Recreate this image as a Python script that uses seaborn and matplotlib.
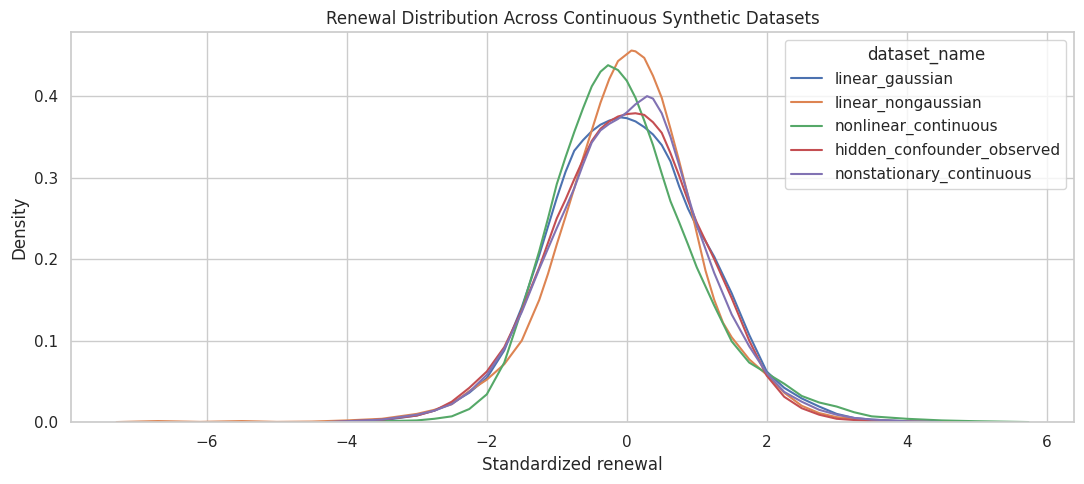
import numpy as np
import pandas as pd
import matplotlib
matplotlib.use("Agg")
import matplotlib.pyplot as plt
import seaborn as sns

sns.set_theme(style="whitegrid", palette="deep")

# ── Density curves (x, density) ──────────────────────────────────────────────

DATASETS = [
    "linear_gaussian",
    "linear_nongaussian",
    "nonlinear_continuous",
    "hidden_confounder_observed",
    "nonstationary_continuous",
]

gauss_x = [-4.2, -4.0, -3.5, -3.0, -2.75, -2.5, -2.25, -2.0, -1.75, -1.5, -1.25, -1.125,
           -1.0, -0.875, -0.75, -0.625, -0.5, -0.375, -0.25, -0.09, 0.0, 0.125, 0.25, 0.375,
           0.5, 0.625, 0.75, 0.875, 1.0, 1.125, 1.25, 1.5, 1.75, 2.0, 2.25, 2.5,
           2.75, 3.0, 3.25, 3.5, 4.0, 4.6]
gauss_y = [0.0, 0.001, 0.002, 0.008, 0.014, 0.023, 0.036, 0.054, 0.088, 0.141, 0.205, 0.240,
           0.275, 0.307, 0.333, 0.346, 0.357, 0.365, 0.370, 0.374, 0.373, 0.369, 0.362, 0.353,
           0.340, 0.320, 0.289, 0.262, 0.240, 0.222, 0.203, 0.158, 0.107, 0.062, 0.042, 0.029,
           0.019, 0.010, 0.005, 0.003, 0.001, 0.0]

nongauss_x = [-7.29, -6.7, -6.1, -5.5, -5.0, -4.5, -4.0, -3.5, -3.0, -2.75, -2.5, -2.25,
              -2.0, -1.75, -1.5, -1.25, -1.125, -1.0, -0.875, -0.75, -0.625, -0.5, -0.375, -0.25,
              -0.125, 0.067, 0.125, 0.25, 0.375, 0.5, 0.625, 0.75, 0.875, 1.0, 1.125, 1.25,
              1.375, 1.5, 1.75, 2.0, 2.25, 2.5, 2.75, 3.0, 3.5, 4.0, 4.5, 4.9]
nongauss_y = [0.0, 0.0012, 0.0002, 0.0012, 0.0002, 0.0006, 0.002, 0.004, 0.010, 0.015, 0.022, 0.038,
              0.052, 0.071, 0.100, 0.150, 0.182, 0.218, 0.252, 0.287, 0.324, 0.358, 0.392, 0.421,
              0.443, 0.456, 0.455, 0.447, 0.425, 0.398, 0.360, 0.320, 0.278, 0.232, 0.186, 0.150,
              0.122, 0.104, 0.077, 0.058, 0.036, 0.020, 0.011, 0.006, 0.002, 0.001, 0.0005, 0.0]

nonlin_x = [-4.0, -3.5, -3.0, -2.75, -2.5, -2.25, -2.0, -1.75, -1.5, -1.25, -1.125, -1.0,
            -0.875, -0.75, -0.625, -0.5, -0.375, -0.267, -0.125, 0.0, 0.125, 0.25, 0.375, 0.5,
            0.625, 0.75, 0.875, 1.0, 1.25, 1.5, 1.75, 2.0, 2.25, 2.5, 2.75, 3.0,
            3.25, 3.5, 4.0, 4.5, 5.0, 5.74]
nonlin_y = [0.0005, 0.001, 0.002, 0.004, 0.007, 0.016, 0.034, 0.073, 0.138, 0.210, 0.250, 0.292,
            0.325, 0.356, 0.385, 0.412, 0.430, 0.438, 0.432, 0.419, 0.398, 0.370, 0.340, 0.305,
            0.271, 0.245, 0.218, 0.190, 0.143, 0.099, 0.073, 0.060, 0.047, 0.032, 0.024, 0.019,
            0.012, 0.007, 0.004, 0.002, 0.001, 0.0]

hidden_x = [-4.2, -4.0, -3.5, -3.0, -2.75, -2.5, -2.25, -2.0, -1.75, -1.5, -1.25, -1.125,
            -1.0, -0.875, -0.75, -0.625, -0.5, -0.375, -0.25, -0.125, 0.0, 0.124, 0.25, 0.375,
            0.5, 0.625, 0.75, 0.875, 1.0, 1.25, 1.5, 1.75, 2.0, 2.25, 2.5, 2.75,
            3.0, 3.5, 4.1]
hidden_y = [0.0, 0.001, 0.003, 0.008, 0.014, 0.025, 0.042, 0.062, 0.092, 0.137, 0.190, 0.220,
            0.250, 0.273, 0.298, 0.322, 0.345, 0.360, 0.369, 0.375, 0.378, 0.379, 0.377, 0.368,
            0.355, 0.330, 0.302, 0.272, 0.245, 0.200, 0.152, 0.100, 0.057, 0.031, 0.017, 0.009,
            0.004, 0.001, 0.0]

nonstat_x = [-4.3, -4.0, -3.5, -3.0, -2.75, -2.5, -2.25, -2.0, -1.75, -1.5, -1.25, -1.125,
             -1.0, -0.875, -0.75, -0.625, -0.5, -0.375, -0.25, -0.125, 0.0, 0.125, 0.29, 0.375,
             0.5, 0.625, 0.75, 0.875, 1.0, 1.25, 1.5, 1.75, 2.0, 2.25, 2.5, 2.75,
             3.0, 3.25, 3.5, 4.0, 4.5]
nonstat_y = [0.0, 0.001, 0.003, 0.009, 0.014, 0.022, 0.037, 0.058, 0.090, 0.135, 0.188, 0.213,
             0.238, 0.262, 0.287, 0.316, 0.343, 0.358, 0.366, 0.372, 0.380, 0.390, 0.400, 0.397,
             0.379, 0.350, 0.315, 0.278, 0.242, 0.183, 0.132, 0.093, 0.060, 0.037, 0.025, 0.015,
             0.009, 0.005, 0.003, 0.001, 0.0]

CURVES = {
    "linear_gaussian": (gauss_x, gauss_y),
    "linear_nongaussian": (nongauss_x, nongauss_y),
    "nonlinear_continuous": (nonlin_x, nonlin_y),
    "hidden_confounder_observed": (hidden_x, hidden_y),
    "nonstationary_continuous": (nonstat_x, nonstat_y),
}

frames = []
for name in DATASETS:
    xs, ys = CURVES[name]
    frames.append(pd.DataFrame({"x": xs, "density": ys, "dataset_name": name}))
df = pd.concat(frames, ignore_index=True)

# ── Plot ──────────────────────────────────────────────────────────────────────

fig, ax = plt.subplots(figsize=(10.84, 4.84), dpi=100)
sns.lineplot(
    data=df, x="x", y="density", hue="dataset_name", hue_order=DATASETS,
    estimator=None, sort=True, linewidth=1.5, ax=ax,
)
ax.set_ylim(0, df["density"].max() * 1.05)
ax.set_xticks([-6, -4, -2, 0, 2, 4, 6])
ax.set_xlabel("Standardized renewal")
ax.set_ylabel("Density")
ax.set_title("Renewal Distribution Across Continuous Synthetic Datasets")
sns.move_legend(ax, "upper right", title="dataset_name")

fig.subplots_adjust(left=0.0655, right=0.9908, top=0.934, bottom=0.128)
fig.savefig("out.png", dpi=100)
